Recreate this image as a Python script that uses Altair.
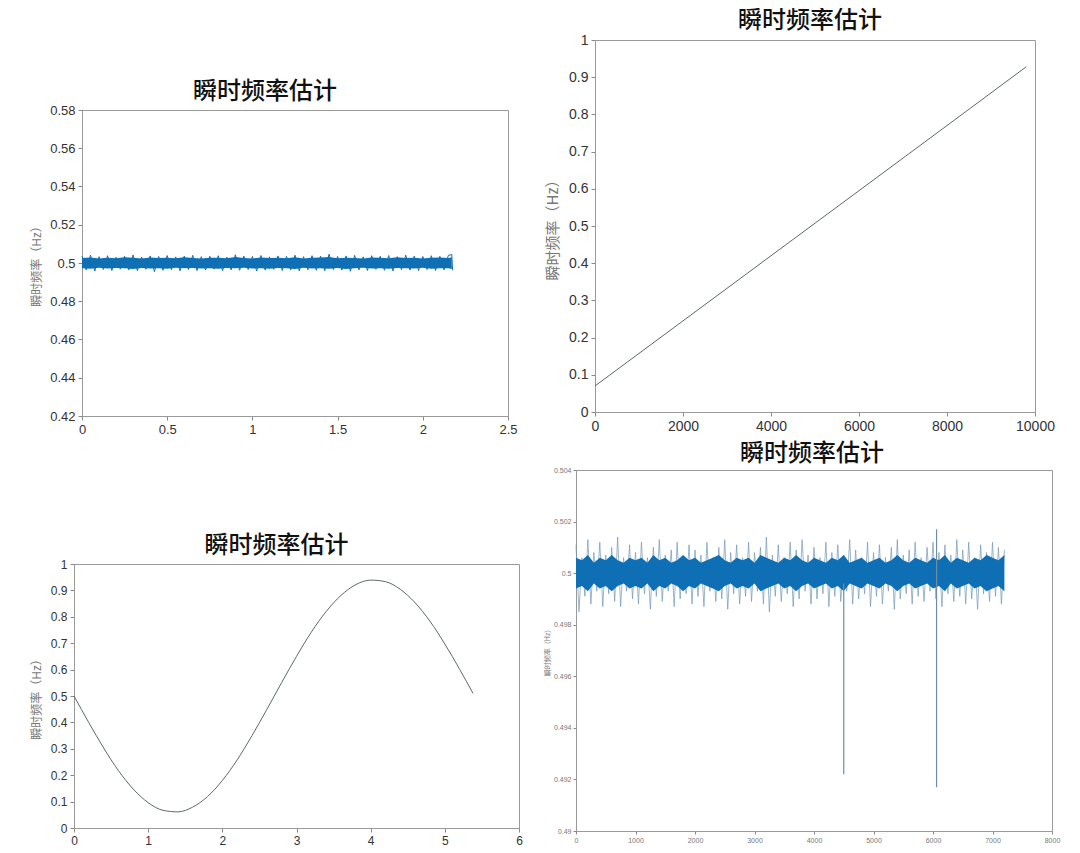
import altair as alt
import pandas as pd

TITLE = "瞬时频率估计"
YTITLE = "瞬时频率（Hz）"
CJK = "Noto Sans CJK SC"
LAT = "Liberation Sans"
BLUE = "#0f6fb4"
BLUE_LIGHT = "#7196b4"
GREY_LINE = "#5d6868"

# ---------------- panel 1 (top-left): noisy constant 0.5 Hz ----------------
P1_X = [0, 0.05, 0.1, 0.15, 0.2, 0.25, 0.3, 0.35, 0.4, 0.45, 0.5, 0.55, 0.6, 0.65,
        0.7, 0.75, 0.8, 0.85, 0.9, 0.95, 1.0, 1.05, 1.1, 1.15, 1.2, 1.25, 1.3, 1.35,
        1.4, 1.45, 1.5, 1.55, 1.6, 1.65, 1.7, 1.75, 1.8, 1.85, 1.9, 1.95, 2.0, 2.05,
        2.1, 2.15, 2.17]
P1_HI = [0.5036, 0.5041, 0.5033, 0.5038, 0.5030, 0.5035, 0.5042, 0.5031, 0.5037, 0.5034,
         0.5039, 0.5032, 0.5036, 0.5040, 0.5033, 0.5035, 0.5038, 0.5031, 0.5043, 0.5036,
         0.5034, 0.5039, 0.5032, 0.5037, 0.5035, 0.5041, 0.5033, 0.5038, 0.5036, 0.5046,
         0.5034, 0.5037, 0.5040, 0.5032, 0.5038, 0.5035, 0.5039, 0.5033, 0.5041, 0.5036,
         0.5034, 0.5038, 0.5035, 0.5040, 0.5044]
P1_LO = [0.4963, 0.4958, 0.4966, 0.4961, 0.4968, 0.4964, 0.4960, 0.4967, 0.4955, 0.4962,
         0.4965, 0.4959, 0.4966, 0.4961, 0.4963, 0.4968, 0.4960, 0.4964, 0.4962, 0.4966,
         0.4958, 0.4963, 0.4967, 0.4961, 0.4964, 0.4959, 0.4965, 0.4962, 0.4960, 0.4966,
         0.4963, 0.4957, 0.4964, 0.4961, 0.4967, 0.4962, 0.4959, 0.4965, 0.4963, 0.4960,
         0.4966, 0.4961, 0.4964, 0.4962, 0.4958]
P1_CORE_HI = [0.5026, 0.5029, 0.5024, 0.5028, 0.5025, 0.5030, 0.5027, 0.5024, 0.5029, 0.5026,
              0.5028, 0.5025, 0.5030, 0.5026, 0.5024, 0.5028, 0.5027, 0.5025, 0.5031, 0.5026,
              0.5024, 0.5029, 0.5026, 0.5028, 0.5025, 0.5030, 0.5024, 0.5027, 0.5029, 0.5032,
              0.5025, 0.5028, 0.5026, 0.5024, 0.5029, 0.5027, 0.5025, 0.5030, 0.5026, 0.5028,
              0.5024, 0.5027, 0.5029, 0.5026, 0.5030]
P1_CORE_LO = [0.4973, 0.4970, 0.4975, 0.4971, 0.4974, 0.4972, 0.4969, 0.4974, 0.4971, 0.4973,
              0.4970, 0.4975, 0.4972, 0.4974, 0.4971, 0.4973, 0.4970, 0.4974, 0.4972, 0.4975,
              0.4971, 0.4973, 0.4970, 0.4974, 0.4972, 0.4969, 0.4975, 0.4971, 0.4973, 0.4970,
              0.4974, 0.4968, 0.4972, 0.4975, 0.4971, 0.4973, 0.4970, 0.4974, 0.4972, 0.4971,
              0.4975, 0.4970, 0.4973, 0.4972, 0.4969]
P1_XTICKS = [0, 0.5, 1, 1.5, 2, 2.5]
P1_YTICKS = [0.42, 0.44, 0.46, 0.48, 0.5, 0.52, 0.54, 0.56, 0.58]

# ---------------- panel 2 (top-right): linear chirp ----------------
P2_X = [0, 2000, 4000, 6000, 8000, 9800]
P2_Y = [0.07, 0.245, 0.42, 0.595, 0.77, 0.928]
P2_XTICKS = [0, 2000, 4000, 6000, 8000, 10000]
P2_YTICKS = [0, 0.1, 0.2, 0.3, 0.4, 0.5, 0.6, 0.7, 0.8, 0.9, 1]

# ---------------- panel 3 (bottom-left): sinusoidal frequency ----------------
P3_X = [0, 0.2, 0.4, 0.6, 0.8, 1.0, 1.2, 1.4, 1.6, 1.8, 2.0, 2.2, 2.4, 2.6, 2.8,
        3.0, 3.2, 3.4, 3.6, 3.8, 4.0, 4.2, 4.4, 4.6, 4.8, 5.0, 5.2, 5.38]
P3_Y = [0.5, 0.399, 0.303, 0.217, 0.147, 0.096, 0.067, 0.061, 0.079, 0.119, 0.180,
        0.258, 0.350, 0.449, 0.551, 0.650, 0.742, 0.820, 0.881, 0.922, 0.939, 0.933,
        0.904, 0.853, 0.783, 0.697, 0.601, 0.51]
P3_XTICKS = [0, 1, 2, 3, 4, 5, 6]
P3_YTICKS = [0, 0.1, 0.2, 0.3, 0.4, 0.5, 0.6, 0.7, 0.8, 0.9, 1]

# ---------------- panel 4 (bottom-right): noisy 0.5 Hz with two drop-outs ----------------
P4_X = [0, 100, 200, 300, 400, 500, 600, 700, 800, 900, 1000, 1100, 1200, 1300, 1400,
        1500, 1600, 1700, 1800, 1900, 2000, 2100, 2200, 2300, 2400, 2500, 2600, 2700,
        2800, 2900, 3000, 3100, 3200, 3300, 3400, 3500, 3600, 3700, 3800, 3900, 4000,
        4100, 4200, 4300, 4400, 4500, 4600, 4700, 4800, 4900, 5000, 5100, 5200, 5300,
        5400, 5500, 5600, 5700, 5800, 5900, 6000, 6100, 6200, 6300, 6400, 6500, 6600,
        6700, 6800, 6900, 7000, 7100, 7200]
P4_HI = [0.5011, 0.5006, 0.5013, 0.5008, 0.5012, 0.5007, 0.5010, 0.5014, 0.5006, 0.5011,
         0.5008, 0.5012, 0.5006, 0.5010, 0.5013, 0.5007, 0.5009, 0.5012, 0.5006, 0.5011,
         0.5009, 0.5007, 0.5012, 0.5006, 0.5010, 0.5013, 0.5008, 0.5011, 0.5006, 0.5012,
         0.5008, 0.5010, 0.5014, 0.5007, 0.5011, 0.5006, 0.5012, 0.5009, 0.5013, 0.5007,
         0.5010, 0.5006, 0.5012, 0.5008, 0.5011, 0.5007, 0.5013, 0.5009, 0.5006, 0.5012,
         0.5008, 0.5011, 0.5006, 0.5010, 0.5013, 0.5007, 0.5009, 0.5012, 0.5006, 0.5010,
         0.5012, 0.5008, 0.5011, 0.5007, 0.5013, 0.5009, 0.5012, 0.5006, 0.5011, 0.5008,
         0.5012, 0.5010, 0.5009]
P4_LO = [0.4985, 0.4991, 0.4988, 0.4993, 0.4987, 0.4992, 0.4989, 0.4987, 0.4993, 0.4990,
         0.4988, 0.4992, 0.4986, 0.4991, 0.4989, 0.4993, 0.4987, 0.4990, 0.4992, 0.4988,
         0.4991, 0.4987, 0.4993, 0.4989, 0.4990, 0.4986, 0.4992, 0.4988, 0.4991, 0.4989,
         0.4993, 0.4988, 0.4985, 0.4991, 0.4989, 0.4992, 0.4987, 0.4990, 0.4993, 0.4988,
         0.4990, 0.4992, 0.4987, 0.4991, 0.4989, 0.4993, 0.4988, 0.4990, 0.4992, 0.4987,
         0.4991, 0.4988, 0.4993, 0.4986, 0.4990, 0.4992, 0.4988, 0.4991, 0.4989, 0.4993,
         0.4990, 0.4987, 0.4992, 0.4989, 0.4991, 0.4988, 0.4990, 0.4986, 0.4992, 0.4989,
         0.4991, 0.4988, 0.4990]
P4_CORE_HI = [0.5006, 0.5005, 0.5007, 0.5004, 0.5006, 0.5005, 0.5007, 0.5005, 0.5004, 0.5006,
              0.5005, 0.5006, 0.5004, 0.5007, 0.5005, 0.5006, 0.5004, 0.5005, 0.5007, 0.5005,
              0.5006, 0.5004, 0.5005, 0.5006, 0.5007, 0.5005, 0.5004, 0.5006, 0.5005, 0.5006,
              0.5004, 0.5007, 0.5006, 0.5005, 0.5004, 0.5006, 0.5005, 0.5007, 0.5005, 0.5004,
              0.5006, 0.5005, 0.5004, 0.5006, 0.5005, 0.5007, 0.5004, 0.5005, 0.5006, 0.5004,
              0.5005, 0.5006, 0.5004, 0.5005, 0.5007, 0.5005, 0.5004, 0.5006, 0.5005, 0.5004,
              0.5006, 0.5005, 0.5007, 0.5004, 0.5006, 0.5005, 0.5004, 0.5006, 0.5005, 0.5007,
              0.5006, 0.5005, 0.5007]
P4_CORE_LO = [0.4994, 0.4995, 0.4993, 0.4996, 0.4994, 0.4995, 0.4993, 0.4995, 0.4996, 0.4994,
              0.4995, 0.4994, 0.4996, 0.4993, 0.4995, 0.4994, 0.4996, 0.4995, 0.4993, 0.4995,
              0.4994, 0.4996, 0.4995, 0.4994, 0.4993, 0.4995, 0.4996, 0.4994, 0.4995, 0.4994,
              0.4996, 0.4993, 0.4994, 0.4995, 0.4996, 0.4994, 0.4995, 0.4993, 0.4995, 0.4996,
              0.4994, 0.4995, 0.4996, 0.4994, 0.4995, 0.4993, 0.4996, 0.4995, 0.4994, 0.4996,
              0.4995, 0.4994, 0.4996, 0.4995, 0.4993, 0.4995, 0.4996, 0.4994, 0.4995, 0.4996,
              0.4994, 0.4995, 0.4993, 0.4996, 0.4994, 0.4995, 0.4996, 0.4994, 0.4995, 0.4993,
              0.4994, 0.4995, 0.4993]
P4_SPIKE_X = [4500, 6060]
P4_SPIKE_LO = [0.4922, 0.4917]
P4_SPIKE_HI = [0.4996, 0.5017]
P4_XTICKS = [0, 1000, 2000, 3000, 4000, 5000, 6000, 7000, 8000]
P4_YTICKS = [0.49, 0.492, 0.494, 0.496, 0.498, 0.5, 0.502, 0.504]


def make_axis(ticks, size, color, title=None, tsize=12, tpad=6, tcolor="#777",
              tick=4, lpad=3):
    kw = dict(values=ticks, format="~r", labelFont=LAT, labelFontSize=size,
              labelColor=color, tickSize=tick, tickColor="#888", domainColor="#999",
              grid=False, labelPadding=lpad, labelFlush=False)
    if title:
        kw.update(title=title, titleFont=CJK, titleFontSize=tsize, titleColor=tcolor,
                  titleFontWeight="normal", titlePadding=tpad)
    else:
        kw["title"] = None
    return alt.Axis(**kw)


def ttl(dx):
    return alt.TitleParams(text=TITLE, font=CJK, fontSize=24, fontWeight=500,
                           color="#111", anchor="middle", offset=0, dx=dx)


def zigzag(xs, his, los, half):
    zx, zy = [], []
    for i in range(len(xs)):
        zx.append(xs[i]); zy.append(his[i])
        if i < len(xs) - 1:
            zx.append(xs[i] + half); zy.append(los[i])
    return pd.DataFrame({"x": zx, "y": zy})


def spacer(w, h):
    return alt.Chart(pd.DataFrame({"v": [0]})).mark_point(opacity=0).encode(
        x=alt.X("v:Q", axis=None), y=alt.Y("v:Q", axis=None)
    ).properties(width=w, height=h, view=alt.ViewBackground(strokeOpacity=0))


# ---------- panel 1 ----------
x1s = alt.Scale(domain=[0, 2.5], nice=False, zero=False)
y1s = alt.Scale(domain=[0.42, 0.58], nice=False, zero=False)
x1a = make_axis(P1_XTICKS, 13, "#333")
y1a = make_axis(P1_YTICKS, 13, "#333", YTITLE, 12, 6)
df1c = pd.DataFrame({"x": P1_X, "hi": P1_CORE_HI, "lo": P1_CORE_LO})
df1z = zigzag(P1_X, P1_HI, P1_LO, 0.025)
p1_core = alt.Chart(df1c).mark_area(color=BLUE).encode(
    x=alt.X("x:Q", scale=x1s, axis=x1a), y=alt.Y("hi:Q", scale=y1s, axis=y1a), y2="lo:Q")
p1_zig = alt.Chart(df1z).mark_line(color=BLUE, strokeWidth=1).encode(
    x=alt.X("x:Q", scale=x1s, axis=x1a), y=alt.Y("y:Q", scale=y1s, axis=y1a))
p1 = alt.layer(p1_core, p1_zig).properties(width=426, height=306, title=ttl(-30))

# ---------- panel 2 ----------
df2 = pd.DataFrame({"n": P2_X, "f": P2_Y})
p2 = alt.Chart(df2).mark_line(color=GREY_LINE, strokeWidth=1).encode(
    x=alt.X("n:Q", scale=alt.Scale(domain=[0, 10000], nice=False, zero=False),
            axis=make_axis(P2_XTICKS, 14, "#333")),
    y=alt.Y("f:Q", scale=alt.Scale(domain=[0, 1], nice=False, zero=False),
            axis=make_axis(P2_YTICKS, 14, "#333", YTITLE, 15, 8)),
).properties(width=440, height=372, title=ttl(-5))

# ---------- panel 3 ----------
df3 = pd.DataFrame({"t": P3_X, "f": P3_Y})
p3 = alt.Chart(df3).mark_line(color=GREY_LINE, strokeWidth=1, interpolate="monotone").encode(
    x=alt.X("t:Q", scale=alt.Scale(domain=[0, 6], nice=False, zero=False),
            axis=make_axis(P3_XTICKS, 12, "#333")),
    y=alt.Y("f:Q", scale=alt.Scale(domain=[0, 1], nice=False, zero=False),
            axis=make_axis(P3_YTICKS, 12, "#333", YTITLE, 12, 7)),
).properties(width=445, height=264, title=ttl(-20))

# ---------- panel 4 ----------
df4z = zigzag(P4_X, P4_HI, P4_LO, 50)
df4c = pd.DataFrame({"x": P4_X, "hi": P4_CORE_HI, "lo": P4_CORE_LO})
df4s = pd.DataFrame({"x": P4_SPIKE_X, "lo": P4_SPIKE_LO, "hi": P4_SPIKE_HI})

x4s = alt.Scale(domain=[0, 8000], nice=False, zero=False)
y4s = alt.Scale(domain=[0.49, 0.504], nice=False, zero=False)
x4a = make_axis(P4_XTICKS, 7, "#777", tick=3, lpad=2)
y4a = make_axis(P4_YTICKS, 7, "#777", YTITLE, 7, 3, tick=3, lpad=2)

p4_outer = alt.Chart(df4z).mark_line(color=BLUE_LIGHT, strokeWidth=0.7).encode(
    x=alt.X("x:Q", scale=x4s, axis=x4a), y=alt.Y("y:Q", scale=y4s, axis=y4a))
p4_core = alt.Chart(df4c).mark_area(color=BLUE).encode(
    x=alt.X("x:Q", scale=x4s, axis=x4a), y=alt.Y("hi:Q", scale=y4s, axis=y4a), y2="lo:Q")
p4_spk = alt.Chart(df4s).mark_rule(color="#6f8ea6", strokeWidth=1.2).encode(
    x=alt.X("x:Q", scale=x4s, axis=x4a), y=alt.Y("lo:Q", scale=y4s, axis=y4a), y2="hi:Q")
p4 = alt.layer(p4_outer, p4_core, p4_spk).properties(width=476, height=361, title=ttl(-2))

# ---------- layout ----------
left = alt.vconcat(
    alt.vconcat(spacer(10, 39), alt.hconcat(spacer(6, 10), p1, spacing=0), spacing=0),
    alt.hconcat(spacer(4, 10), p3, spacing=0),
    spacing=96,
)
right = alt.vconcat(
    alt.hconcat(spacer(7, 10), p2, spacing=0),
    alt.hconcat(spacer(1, 10), p4, spacing=0),
    spacing=7,
)

chart = alt.hconcat(left, right, spacing=12).properties(
    padding={"left": 15, "top": 0, "right": 0, "bottom": 0}, background="white"
).configure_view(stroke="#9a9a9a", strokeWidth=1)

chart.save("out.html", embed_options={"renderer": "svg", "actions": False})
